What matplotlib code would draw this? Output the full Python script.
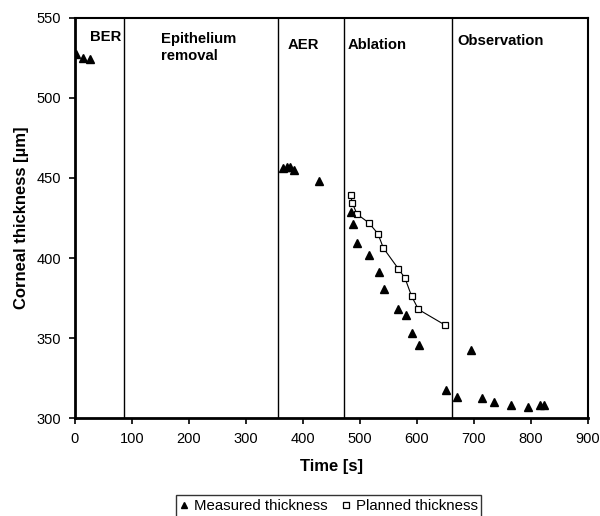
import matplotlib
matplotlib.use("Agg")
import matplotlib.pyplot as plt
from matplotlib.ticker import MultipleLocator

plt.rcParams['font.family'] = ['Liberation Sans', 'DejaVu Sans']

# measured thickness (triangles)
meas_t = [2, 14, 27, 366, 372, 378, 385, 429,
          485, 488, 496, 516, 534, 543, 568, 581, 592, 604,
          651, 670, 695, 715, 736, 766, 795, 817, 823]
meas_d = [527, 525, 524, 456, 457, 457, 455, 448,
          429, 421, 409.5, 402, 391.5, 381, 368.5, 364.5, 353, 346,
          318, 313.5, 343, 313, 310, 308.5, 307, 308.7, 308.3]

# planned thickness (squares, joined)
plan_t = [484, 487, 495, 516, 532, 541.5, 567.5, 579.5, 591, 603, 650]
plan_d = [439.2, 434.5, 427.5, 422, 415.2, 406.3, 393.5, 387.5, 376.3, 368, 358.2]

# phase boundaries and labels
bounds = [86, 357, 472, 662]
phase_labels = ["BER", "Epithelium\nremoval", "AER", "Ablation", "Observation"]
label_x = [27, 152, 374, 478, 672]
label_y = [542, 541, 537, 537, 540]

fig = plt.figure(figsize=(6, 5.16), dpi=100)
ax = fig.add_axes([0.1245, 0.189, 0.855, 0.777])

for b in bounds:
    ax.axvline(b, color='black', lw=1.0)

ax.plot(plan_t, plan_d, color='black', lw=0.8, marker='s', ms=5,
        mfc='white', mec='black', mew=0.9, label='Planned thickness', zorder=3)
ax.plot(meas_t, meas_d, ls='none', marker='^', ms=6, color='black',
        label='Measured thickness', zorder=4)

for x, y, s in zip(label_x, label_y, phase_labels):
    ax.text(x, y, s, fontsize=10.7, fontweight='bold', va='top', ha='left',
            linespacing=1.25)

ax.set_xlim(0, 900)
ax.set_ylim(300, 550)
ax.xaxis.set_major_locator(MultipleLocator(100))
ax.yaxis.set_major_locator(MultipleLocator(50))
ax.tick_params(direction='out', length=4, width=1.2, labelsize=10.5, pad=6)
for sp in ax.spines.values():
    sp.set_linewidth(1.5)
ax.spines['left'].set_linewidth(2)
ax.spines['bottom'].set_linewidth(2)

ax.set_xlabel("Time [s]", fontsize=12, fontweight='bold', labelpad=9)
ax.set_ylabel("Corneal thickness [µm]", fontsize=12, fontweight='bold', labelpad=5)

h, l = ax.get_legend_handles_labels()
leg = fig.legend([h[1], h[0]], [l[1], l[0]], loc='center', ncol=2,
                 bbox_to_anchor=(0.548, 0.019), fontsize=10.8, frameon=True,
                 fancybox=False, edgecolor='black', handlelength=0.6,
                 handletextpad=0.35, columnspacing=0.9, borderpad=0.25,
                 markerscale=0.75)
leg.get_frame().set_linewidth(1.0)
# legend shows markers only
for lh in leg.legend_handles:
    lh.set_linestyle('none')

fig.savefig("out.png", dpi=100)
